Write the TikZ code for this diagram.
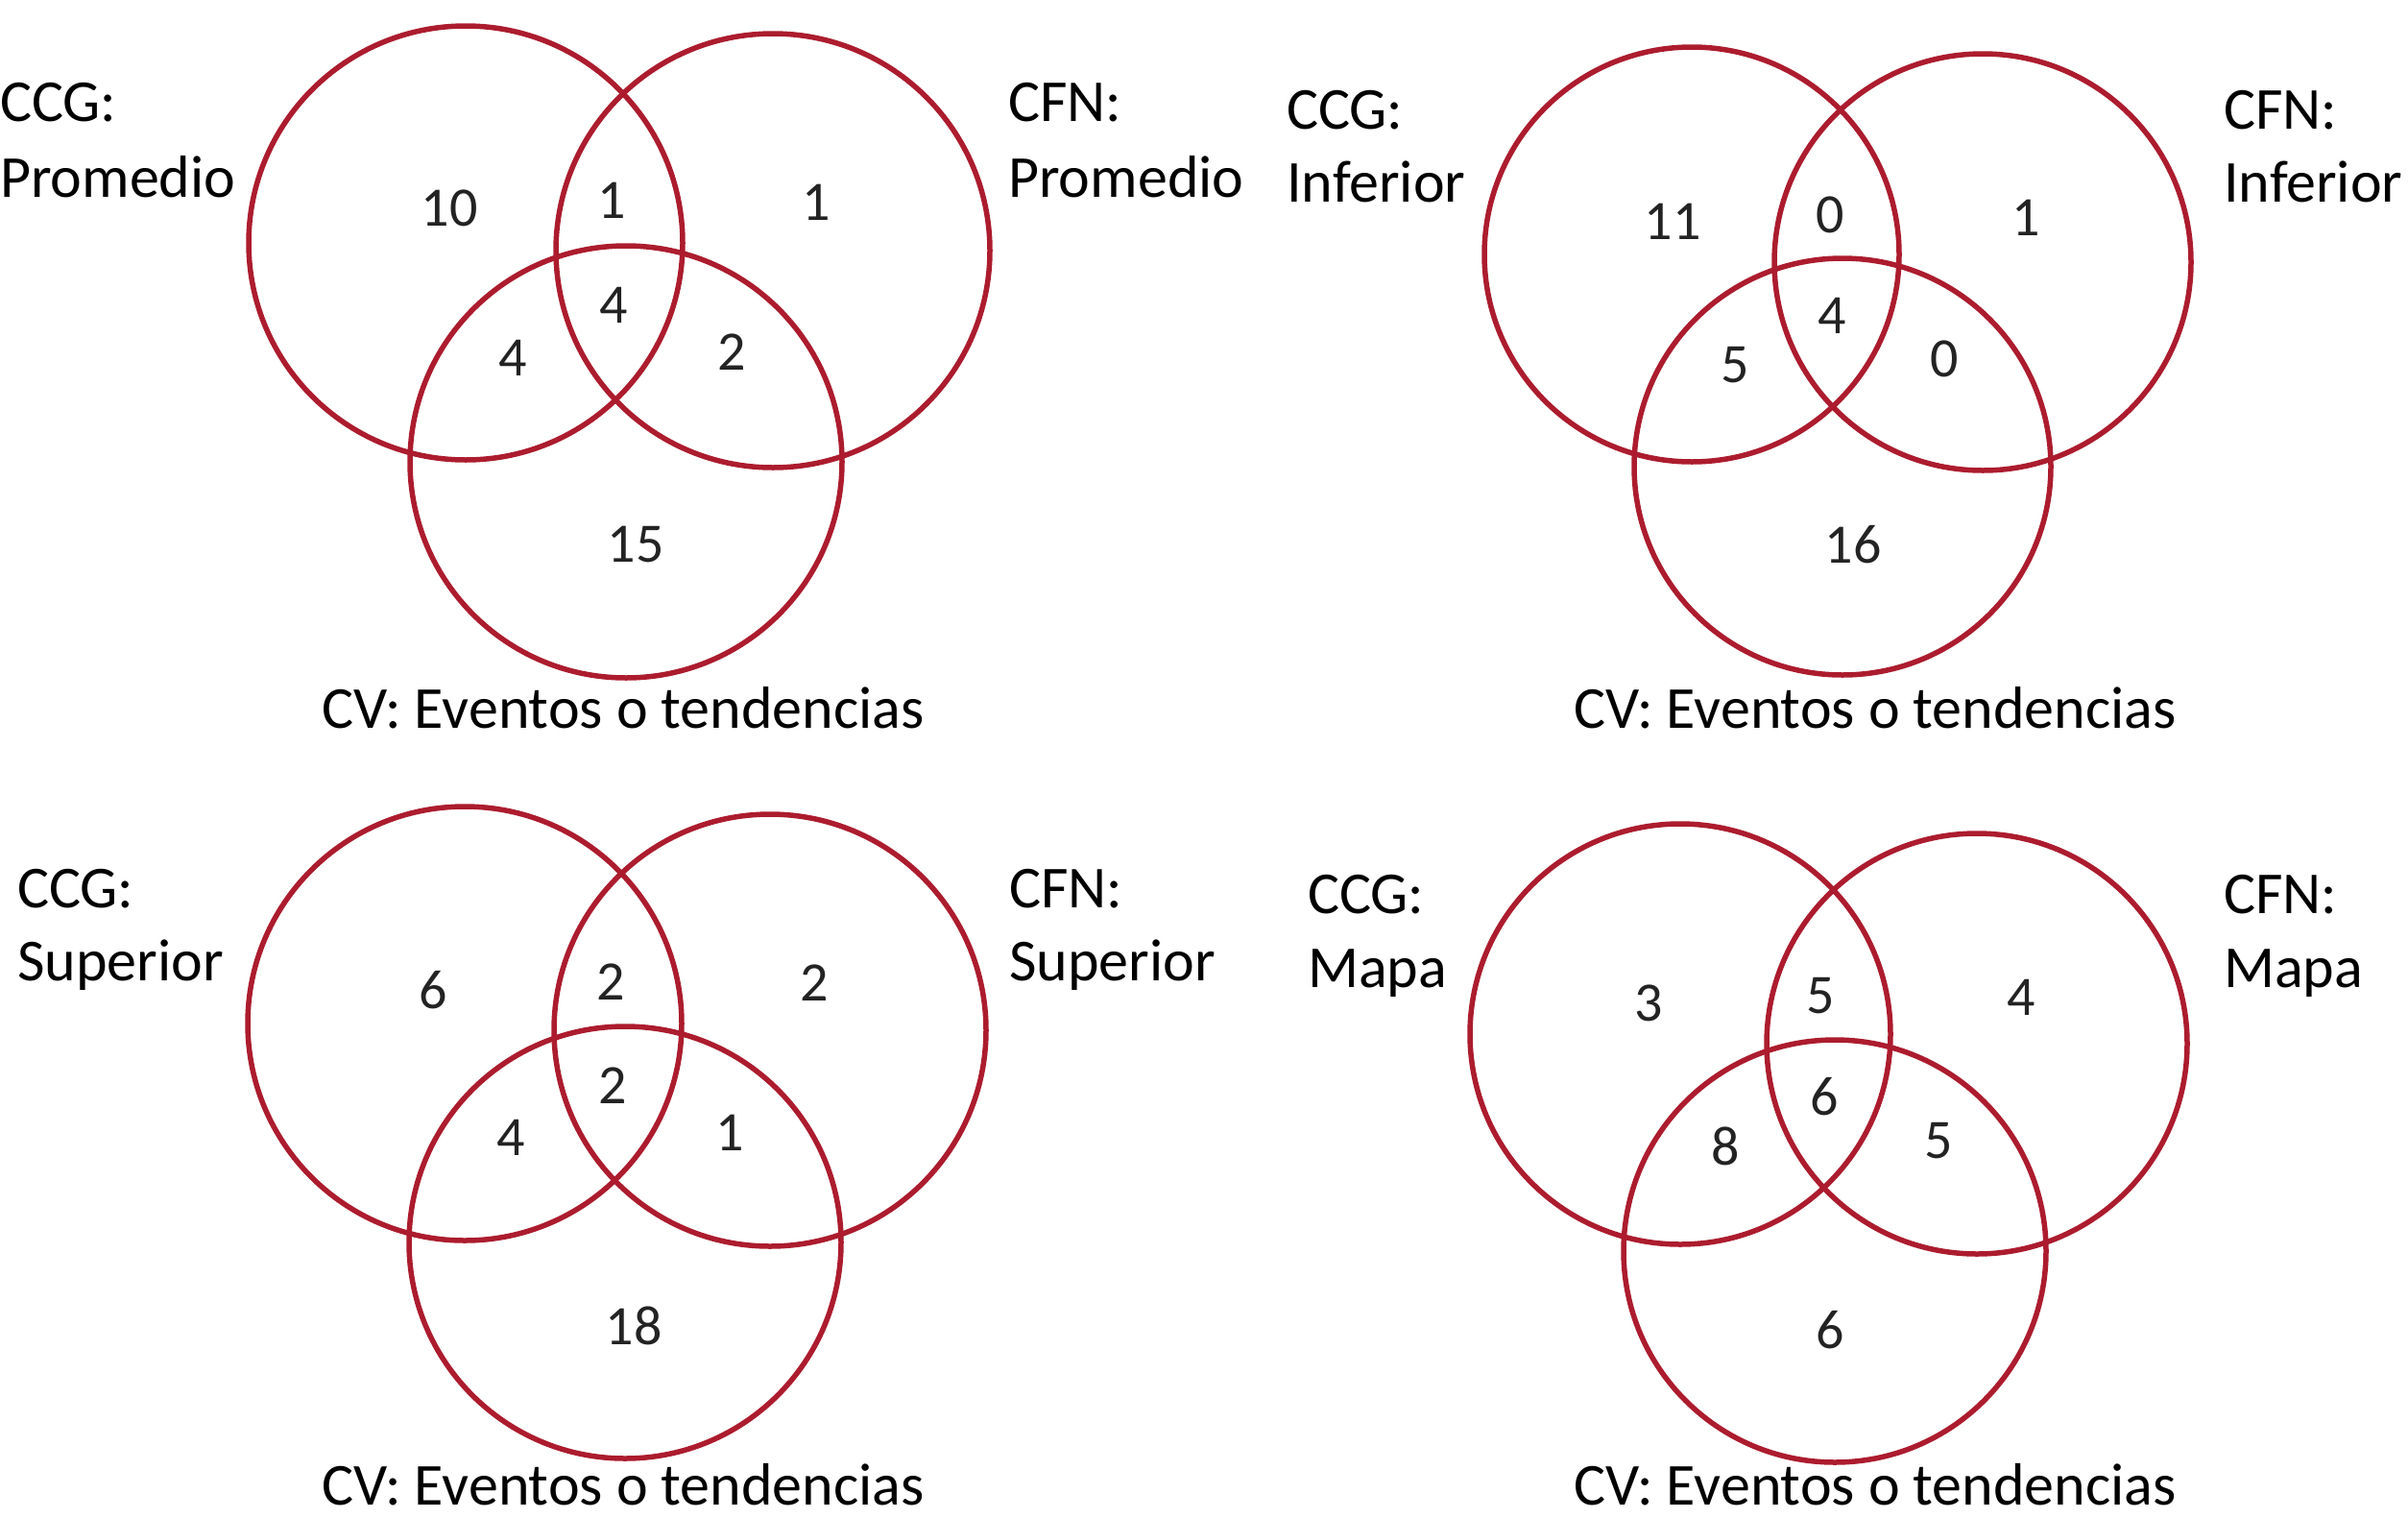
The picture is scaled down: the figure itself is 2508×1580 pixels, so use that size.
\documentclass[tikz,border=0pt]{standalone}
\usepackage{fontspec}
\setmainfont{Carlito}
\definecolor{vennred}{RGB}{172,28,46}
\definecolor{numgray}{RGB}{35,35,35}
\tikzset{
  venn/.style={circle, draw=vennred, line width=5.5pt, inner sep=0pt, minimum size=#1},
  lbl/.style={anchor=base west, inner sep=0pt, font=\fontsize{62}{62}\selectfont},
  cvlbl/.style={anchor=base, inner sep=0pt, font=\fontsize{62}{62}\selectfont},
  num/.style={anchor=center, inner sep=0pt, text=numgray, font=\fontsize{58}{58}\selectfont}
}
\begin{document}
\begin{tikzpicture}[x=1pt,y=-1pt]
\path[fill=white] (0,0) rectangle (2508,1580);
\useasboundingbox (0,0) rectangle (2508,1580);

% ---------- Top-left: Promedio ----------
\node[venn=452pt] (tlA) at (485,253) {};
\node[venn=452pt] (tlB) at (805,261) {};
\node[venn=450pt] (tlC) at (652,481) {};
\node[lbl] (tlccg1) at (0,126) {CCG:};
\node[lbl] (tlccg2) at (0,205) {Promedio};
\node[lbl] (tlcfn1) at (1050,126) {CFN:};
\node[lbl] (tlcfn2) at (1050,205) {Promedio};
\node[cvlbl] (tlcv) at (649,758) {CV: Eventos o tendencias};
\node[num] (tln1) at (468,217) {10};
\node[num] (tln2) at (637,209) {1};
\node[num] (tln3) at (850,211) {1};
\node[num] (tln4) at (639,318) {4};
\node[num] (tln5) at (534,373) {4};
\node[num] (tln6) at (762,367) {2};
\node[num] (tln7) at (662,567) {15};

% ---------- Top-right: Inferior ----------
\node[venn=432pt] (trA) at (1762,265) {};
\node[venn=434pt] (trB) at (2065,273) {};
\node[venn=434pt] (trC) at (1919,486) {};
\node[lbl] (trccg1) at (1340,134) {CCG:};
\node[lbl] (trccg2) at (1340,210) {Inferior};
\node[lbl] (trcfn1) at (2316,134) {CFN:};
\node[lbl] (trcfn2) at (2316,210) {Inferior};
\node[cvlbl] (trcv) at (1953,758) {CV: Eventos o tendencias};
\node[num] (trn1) at (1742,231) {11};
\node[num] (trn2) at (1906,224) {0};
\node[num] (trn3) at (2110,227) {1};
\node[num] (trn4) at (1908,329) {4};
\node[num] (trn5) at (1807,380) {5};
\node[num] (trn6) at (2025,374) {0};
\node[num] (trn7) at (1930,567) {16};

% ---------- Bottom-left: Superior ----------
\node[venn=452pt] (blA) at (484,1066) {};
\node[venn=450pt] (blB) at (802,1073) {};
\node[venn=450pt] (blC) at (651,1294) {};
\node[lbl] (blccg1) at (18,945) {CCG:};
\node[lbl] (blccg2) at (18,1021) {Superior};
\node[lbl] (blcfn1) at (1051,945) {CFN:};
\node[lbl] (blcfn2) at (1051,1021) {Superior};
\node[cvlbl] (blcv) at (649,1567) {CV: Eventos o tendencias};
\node[num] (bln1) at (451,1031) {6};
\node[num] (bln2) at (636,1023) {2};
\node[num] (bln3) at (848,1024) {2};
\node[num] (bln4) at (638,1131) {2};
\node[num] (bln5) at (532,1185) {4};
\node[num] (bln6) at (760,1180) {1};
\node[num] (bln7) at (660,1381) {18};

% ---------- Bottom-right: Mapa ----------
\node[venn=438pt] (brA) at (1750,1077) {};
\node[venn=438pt] (brB) at (2059,1087) {};
\node[venn=440pt] (brC) at (1911,1303) {};
\node[lbl] (brccg1) at (1362,951) {CCG:};
\node[lbl] (brccg2) at (1362,1028) {Mapa};
\node[lbl] (brcfn1) at (2316,951) {CFN:};
\node[lbl] (brcfn2) at (2316,1028) {Mapa};
\node[cvlbl] (brcv) at (1953,1567) {CV: Eventos o tendencias};
\node[num] (brn1) at (1717,1045) {3};
\node[num] (brn2) at (1896,1037) {5};
\node[num] (brn3) at (2105,1039) {4};
\node[num] (brn4) at (1900,1142) {6};
\node[num] (brn5) at (1797,1194) {8};
\node[num] (brn6) at (2019,1188) {5};
\node[num] (brn7) at (1906,1385) {6};
\end{tikzpicture}
\end{document}
